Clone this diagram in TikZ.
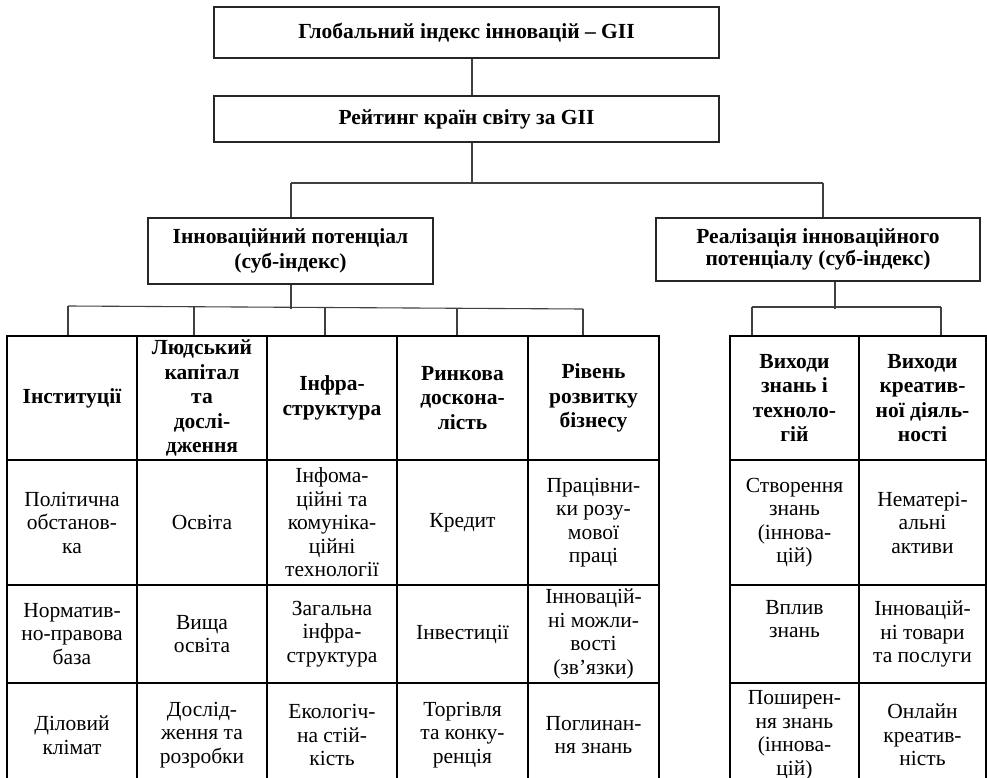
\documentclass[tikz,border=0pt]{standalone}
\usepackage{fontspec}
\setmainfont{Liberation Serif}
\begin{document}
\begin{tikzpicture}[x=1pt,y=-1pt,
  every node/.style={font=\fontsize{21.5}{23.5}\selectfont},
  box/.style={draw=black!85, line width=1.3pt, inner sep=0pt, align=center, font=\fontsize{21.5}{25}\selectfont\bfseries},
  cell/.style={draw, line width=1.8pt, inner sep=0pt, align=center},
  hcell/.style={cell, font=\fontsize{21.5}{24.5}\selectfont\bfseries},
  conn/.style={line width=1.1pt, draw=black!75}]
\useasboundingbox (0,0) rectangle (987,778);

% top boxes
\node[box, minimum width=505pt, minimum height=51pt] (gii) at (466.5,32.5) {Глобальний індекс інновацій – GII};
\node[box, minimum width=505pt, minimum height=46pt] (rank) at (466.5,119) {Рейтинг країн світу за GII};
\node[box, minimum width=285pt, minimum height=66pt] (pot) at (290.5,251) {Інноваційний потенціал\\(суб-індекс)};
\node[box, minimum width=324pt, minimum height=63pt, font=\fontsize{21.5}{21.5}\selectfont\bfseries] (real) at (818,249.5) {Реалізація інноваційного\\потенціалу (суб-індекс)};

% left table
\def\rA{398}\def\rB{522.5}\def\rC{634}\def\rD{735}
\node[hcell, minimum width=130pt, minimum height=124pt] (h1) at (72,\rA) {Інституції};
\node[hcell, minimum width=130pt, minimum height=124pt] (h2) at (202,\rA) {Людський\\капітал\\та\\дослі-\\дження};
\node[hcell, minimum width=130pt, minimum height=124pt] (h3) at (332,\rA) {Інфра-\\структура};
\node[hcell, minimum width=131pt, minimum height=124pt] (h4) at (462.5,\rA) {Ринкова\\доскона-\\лість};
\node[hcell, minimum width=131pt, minimum height=124pt] (h5) at (593.5,\rA) {Рівень\\розвитку\\бізнесу};

\node[cell, minimum width=130pt, minimum height=125pt] (a1) at (72,\rB) {Політична\\обстанов-\\ка};
\node[cell, minimum width=130pt, minimum height=125pt] (a2) at (202,\rB) {Освіта};
\node[cell, minimum width=130pt, minimum height=125pt] (a3) at (332,\rB) {Інфома-\\ційні та\\комуніка-\\ційні\\технології};
\node[cell, minimum width=131pt, minimum height=125pt] (a4) at (462.5,\rB) {Кредит};
\node[cell, minimum width=131pt, minimum height=125pt] (a5) at (593.5,\rB) {Працівни-\\ки розу-\\мової\\праці};

\node[cell, minimum width=130pt, minimum height=98pt] (b1) at (72,\rC) {Норматив-\\но-правова\\база};
\node[cell, minimum width=130pt, minimum height=98pt] (b2) at (202,\rC) {Вища\\освіта};
\node[cell, minimum width=130pt, minimum height=98pt] (b3) at (332,\rC) {Загальна\\інфра-\\структура};
\node[cell, minimum width=131pt, minimum height=98pt] (b4) at (462.5,\rC) {Інвестиції};
\node[cell, minimum width=131pt, minimum height=98pt] (b5) at (593.5,\rC) {Інновацій-\\ні можли-\\вості\\(зв’язки)};

\node[cell, minimum width=130pt, minimum height=104pt] (c1) at (72,\rD) {Діловий\\клімат};
\node[cell, minimum width=130pt, minimum height=104pt] (c2) at (202,\rD) {Дослід-\\ження та\\розробки};
\node[cell, minimum width=130pt, minimum height=104pt] (c3) at (332,\rD) {Екологіч-\\на стій-\\кість};
\node[cell, minimum width=131pt, minimum height=104pt] (c4) at (462.5,\rD) {Торгівля\\та конку-\\ренція};
\node[cell, minimum width=131pt, minimum height=104pt] (c5) at (593.5,\rD) {Поглинан-\\ня знань};

% right table
\node[hcell, minimum width=129pt, minimum height=124pt] (rh1) at (794.5,\rA) {Виходи\\знань і\\техноло-\\гій};
\node[hcell, minimum width=127pt, minimum height=124pt] (rh2) at (922.5,\rA) {Виходи\\креатив-\\ної діяль-\\ності};
\node[cell, minimum width=129pt, minimum height=125pt] (ra1) at (794.5,\rB) {Створення\\знань\\(іннова-\\цій)};
\node[cell, minimum width=127pt, minimum height=125pt] (ra2) at (922.5,\rB) {Нематері-\\альні\\активи};
\node[cell, minimum width=129pt, minimum height=98pt] (rb1) at (794.5,\rC) {Вплив\\знань\\\strut};
\node[cell, minimum width=127pt, minimum height=98pt] (rb2) at (922.5,\rC) {Інновацій-\\ні товари\\та послуги};
\node[cell, minimum width=129pt, minimum height=104pt] (rc1) at (794.5,\rD) {Поширен-\\ня знань\\(іннова-\\цій)};
\node[cell, minimum width=127pt, minimum height=104pt] (rc2) at (922.5,\rD) {Онлайн\\креатив-\\ність};

% connectors
\coordinate (j0) at (472,183);
\coordinate (jl) at (291,183);
\coordinate (jr) at (823,183);
\draw[conn] (gii.south -| j0) -- (rank.north -| j0);
\draw[conn] (rank.south -| j0) -- (j0);
\draw[conn] (jl) -- (jr);
\draw[conn] (jl) -- (pot.north -| jl);
\draw[conn] (jr) -- (real.north -| jr);

\coordinate (kl) at (291,309);
\coordinate (l1) at (68,306);
\coordinate (l2) at (194,307);
\coordinate (l3) at (325,307.5);
\coordinate (l4) at (457,308);
\coordinate (l5) at (583,309);
\draw[conn] (pot.south -| kl) -- (kl);
\draw[conn] (l1) -- (l5);
\foreach \i in {1,...,5} \draw[conn] (l\i) -- (h\i.north -| l\i);

\coordinate (kr) at (835,309);
\coordinate (m1) at (752,307);
\coordinate (m2) at (941,307);
\draw[conn] (real.south -| kr) -- (kr);
\draw[conn] (m1) -- (m2);
\draw[conn] (m1) -- (rh1.north -| m1);
\draw[conn] (m2) -- (rh2.north -| m2);
\end{tikzpicture}
\end{document}
